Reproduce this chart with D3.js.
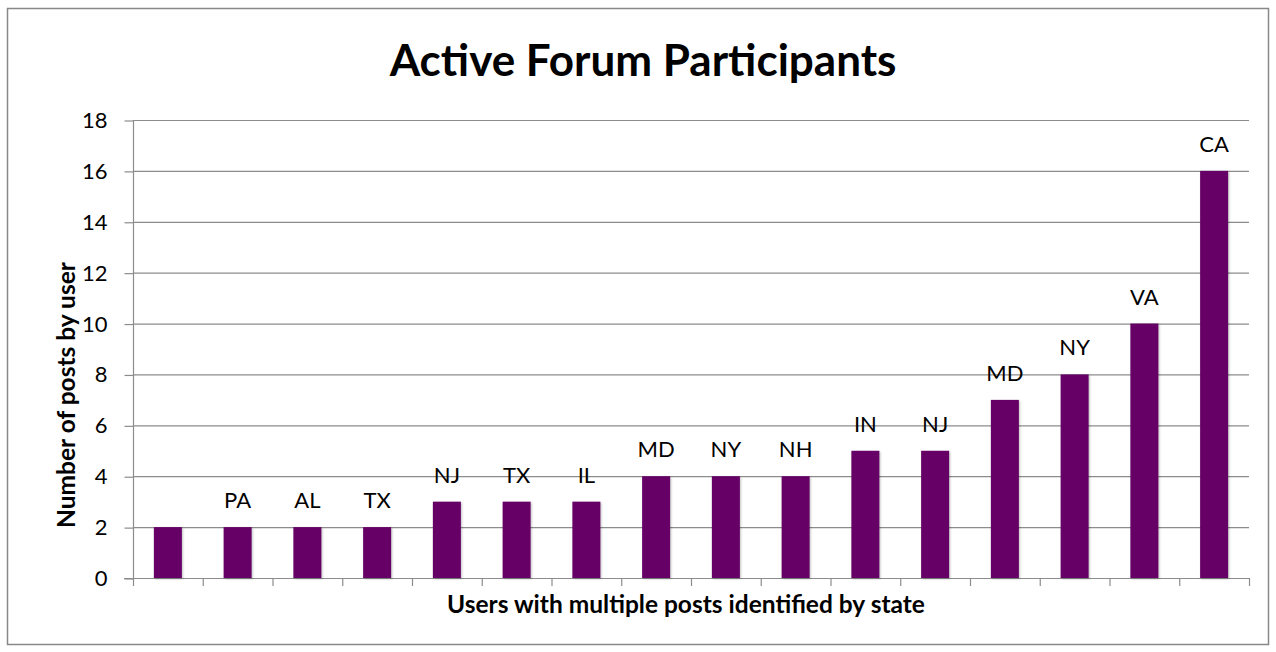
<!DOCTYPE html>
<html lang="en">
<head>
    <meta charset="utf-8">
    <title>Active Forum Participants</title>
    <script src="https://d3js.org/d3.v7.min.js" charset="utf-8"></script>
    <style>
        body { margin: 0; background: #fff; }
        text { font-family: Lato, "Open Sans", sans-serif; fill: #000; }
    </style>
</head>
<body>

    <script>

    var states = ["", "PA", "AL", "TX", "NJ", "TX", "IL", "MD", "NY", "NH", "IN", "NJ", "MD", "NY", "VA", "CA"]
    var posts = [2, 2, 2, 2, 3, 3, 3, 4, 4, 4, 5, 5, 7, 8, 10, 16]
    var yTicks = [0, 2, 4, 6, 8, 10, 12, 14, 16, 18]

    var w = 1276
    var h = 652
    var pLeft = 133, pRight = 1249, pTop = 120, pBottom = 578

    var svg = d3.select("body").append("svg").attr("width", w).attr("height", h)

    // chart border
    svg.append("rect").attr("x", 7.5).attr("y", 8.5).attr("width", 1261).attr("height", 636)
        .attr("fill", "#fff").attr("stroke", "#888").attr("stroke-width", 1.5)

    var x = d3.scaleBand().domain(d3.range(posts.length)).range([pLeft, pRight]).paddingInner(0).paddingOuter(0)
    var y = d3.scaleLinear().domain([0, 18]).range([pBottom, pTop])

    // gridlines
    svg.append("g").selectAll("line").data(yTicks.slice(1)).join("line")
        .attr("x1", pLeft).attr("x2", pRight)
        .attr("y1", function (d) { return y(d) + 0.5 }).attr("y2", function (d) { return y(d) + 0.5 })
        .attr("stroke", "#8c8c8c").attr("stroke-width", 1.2)

    // y axis
    var yAxis = d3.axisLeft(y).tickValues(yTicks).tickSize(9).tickPadding(17).tickFormat(d3.format("d"))
    var gy = svg.append("g").attr("transform", "translate(" + (pLeft + 0.5) + ",0.5)").call(yAxis)
    gy.select(".domain").attr("stroke", "#8c8c8c").attr("stroke-width", 1.2).attr("d", "M0," + y(18) + "V" + y(0))
    gy.selectAll(".tick line").attr("stroke", "#8c8c8c").attr("stroke-width", 1.2)
    gy.selectAll(".tick text").style("font-family", "Lato, sans-serif").style("font-size", "22px").attr("fill", "#000")

    // x axis with ticks on category boundaries
    var bounds = d3.range(posts.length + 1).map(function (i) { return pLeft + i * x.bandwidth() })
    var gx = svg.append("g")
    gx.append("line").attr("x1", pLeft - 9).attr("x2", pRight).attr("y1", pBottom + 0.5).attr("y2", pBottom + 0.5)
        .attr("stroke", "#8c8c8c").attr("stroke-width", 1.2)
    gx.selectAll("line.tk").data(bounds).join("line").attr("class", "tk")
        .attr("x1", function (d) { return d + 0.5 }).attr("x2", function (d) { return d + 0.5 })
        .attr("y1", pBottom).attr("y2", pBottom + 8)
        .attr("stroke", "#8c8c8c").attr("stroke-width", 1.2)

    // bars
    var bw = 28
    svg.append("g").selectAll("rect").data(posts).join("rect")
        .attr("x", function (d, i) { return x(i) + x.bandwidth() / 2 - bw / 2 })
        .attr("y", function (d) { return y(d) })
        .attr("width", bw)
        .attr("height", function (d) { return y(0) - y(d) })
        .attr("fill", "#660066")
        .style("filter", "drop-shadow(1px 1px 1px rgba(0,0,0,0.25))")

    // state labels
    svg.append("g").selectAll("text").data(posts).join("text")
        .attr("x", function (d, i) { return x(i) + x.bandwidth() / 2 })
        .attr("y", function (d) { return y(d) - 19 })
        .attr("text-anchor", "middle")
        .style("font-size", "22px")
        .text(function (d, i) { return states[i] })

    // title
    svg.append("text").attr("x", 643).attr("y", 76).attr("text-anchor", "middle")
        .style("font-size", "44px").style("font-weight", "bold").text("Active Forum Participants")

    // axis titles
    svg.append("text").attr("transform", "translate(75,395) rotate(-90)").attr("text-anchor", "middle")
        .style("font-size", "24.5px").style("font-weight", "bold").text("Number of posts by user")

    svg.append("text").attr("x", 686).attr("y", 613).attr("text-anchor", "middle")
        .style("font-size", "24.5px").style("font-weight", "bold").text("Users with multiple posts identified by state")

    </script>

</body>
</html>
